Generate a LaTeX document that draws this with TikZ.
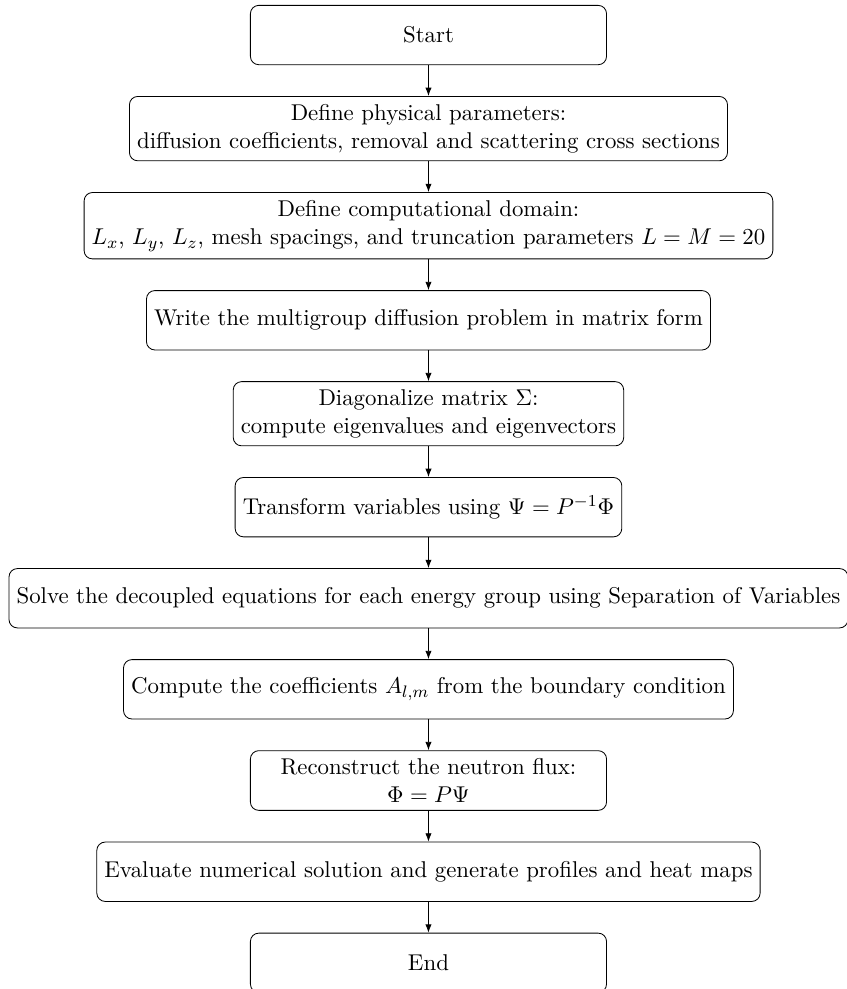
\documentclass[11pt,tikz,border=0pt]{standalone}
\usepackage{amsmath}
\usetikzlibrary{positioning,arrows.meta}

\begin{document}
\begin{tikzpicture}[node distance=0.52cm,
    box/.style={rectangle,draw,rounded corners,minimum width=6cm,minimum height=1cm,align=center},
    flow/.style={-{Latex[length=4pt,width=3pt]}}]

\useasboundingbox (-205.4pt,16.8pt) rectangle (200.6pt,-457.3pt);

\node[box] (start) at (0,0) {Start};
\node[box,below=of start] (params) {Define physical parameters:\\ diffusion coefficients, removal and scattering cross sections};
\node[box,below=of params] (domain) {Define computational domain:\\ $L_x$, $L_y$, $L_z$, mesh spacings, and truncation parameters $L = M = 20$};
\node[box,below=of domain] (matform) {Write the multigroup diffusion problem in matrix form};
\node[box,below=of matform] (diag) {Diagonalize matrix $\Sigma$:\\ compute eigenvalues and eigenvectors};
\node[box,below=of diag] (transf) {Transform variables using $\Psi = P^{-1}\Phi$};
\node[box,below=of transf] (solve) {Solve the decoupled equations for each energy group using Separation of Variables};
\node[box,below=of solve] (coeffs) {Compute the coefficients $A_{l,m}$ from the boundary condition};
\node[box,below=of coeffs] (recon) {Reconstruct the neutron flux:\\ $\Phi = P\Psi$};
\node[box,below=of recon] (evalsol) {Evaluate numerical solution and generate profiles and heat maps};
\node[box,below=of evalsol] (stop) {End};

\foreach \a/\b in {start/params,params/domain,domain/matform,matform/diag,diag/transf,
                   transf/solve,solve/coeffs,coeffs/recon,recon/evalsol,evalsol/stop}
    \draw[flow] (\a) -- (\b);
\end{tikzpicture}
\end{document}
